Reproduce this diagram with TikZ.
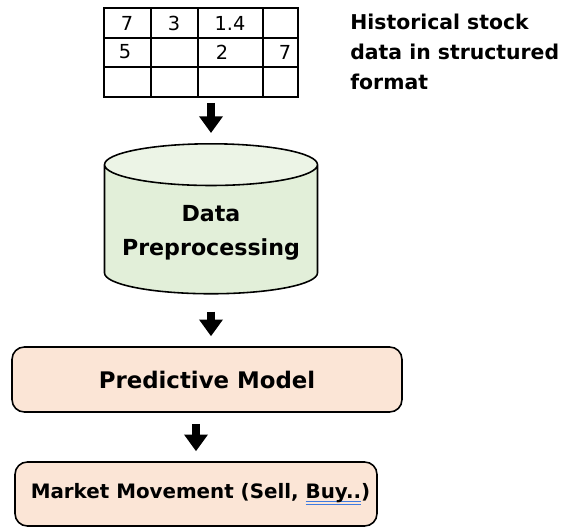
\documentclass[tikz,border=0pt]{standalone}
\usepackage{fontspec}
\setmainfont{DejaVu Sans}
\usetikzlibrary{arrows.meta}
\usetikzlibrary{shapes.geometric}

\definecolor{prepbody}{HTML}{E2EFD9}
\definecolor{preptop}{HTML}{ECF4E6}
\definecolor{peach}{HTML}{FBE5D6}
\definecolor{spellblue}{HTML}{3F7BE0}

% double spell mark under a word
\newcommand{\spellmark}[1]{\setbox0\hbox{#1}%
  \rlap{\color{spellblue}\rule[-1.8pt]{\wd0}{0.35pt}}%
  \rlap{\color{spellblue}\rule[-3.5pt]{\wd0}{0.35pt}}\box0}

\tikzset{
  stage/.style={draw=black, line width=0.9pt, rounded corners=7pt, fill=peach,
    font=\bfseries\fontsize{13}{15}\selectfont},
  flow/.style={line width=4.3pt, -{Triangle[width=13pt,length=9.5pt]}},
  cell/.style={font=\fontsize{11}{13}\selectfont, inner sep=0pt}
}

\begin{document}
\begin{tikzpicture}[x=0.02cm,y=-0.02cm]
\useasboundingbox (0,0) rectangle (564,527);

% input table
\draw[line width=0.9pt] (104,8) rectangle (298,97);
\draw[line width=0.9pt] (104,38) -- (298,38) (104,67) -- (298,67);
\draw[line width=0.9pt] (151,8) -- (151,97) (198,8) -- (198,97) (263,8) -- (263,97);
\coordinate (tbl) at (201,97);

\node[cell] (c11) at (127,23) {7};
\node[cell] (c12) at (174,23) {3};
\node[cell] (c13) at (230,23) {1.4};
\node[cell] (c21) at (125,52) {5};
\node[cell] (c23) at (222,52) {2};
\node[cell] (c24) at (285,52) {7};

\node[align=left, anchor=north west, inner sep=0pt,
  font=\bfseries\fontsize{11.6}{17}\selectfont] (hist) at (350,14)
  {Historical stock\\data in structured\\format};

% preprocessing drum
\node[cylinder, shape border rotate=90, draw=black, line width=0.9pt,
  aspect=0.22, minimum width=4.26cm, minimum height=3cm, anchor=top,
  cylinder uses custom fill, cylinder body fill=prepbody, cylinder end fill=preptop,
  align=center, font=\bfseries\fontsize{12.6}{19}\selectfont] (prep) at (211,143)
  {Data\\Preprocessing};

\node[stage, minimum width=7.8cm, minimum height=1.3cm] (model) at (207,379.5) {Predictive Model};
\node[stage, minimum width=7.24cm, minimum height=1.28cm,
  font=\bfseries\fontsize{11.3}{13}\selectfont] (move) at (196,494)
  {\hspace*{0.18cm}Market Movement (Sell, \spellmark{Buy..})};

\draw[flow, shorten <=0.12cm, shorten >=0.2cm] (prep.top |- tbl) -- (prep.top);
\draw[flow, shorten <=0.34cm, shorten >=0.2cm] (prep.bottom) -- (prep.bottom |- model.north);
\draw[flow, shorten <=0.22cm, shorten >=0.2cm] (move.north |- model.south) -- (move.north);

\end{tikzpicture}
\end{document}
